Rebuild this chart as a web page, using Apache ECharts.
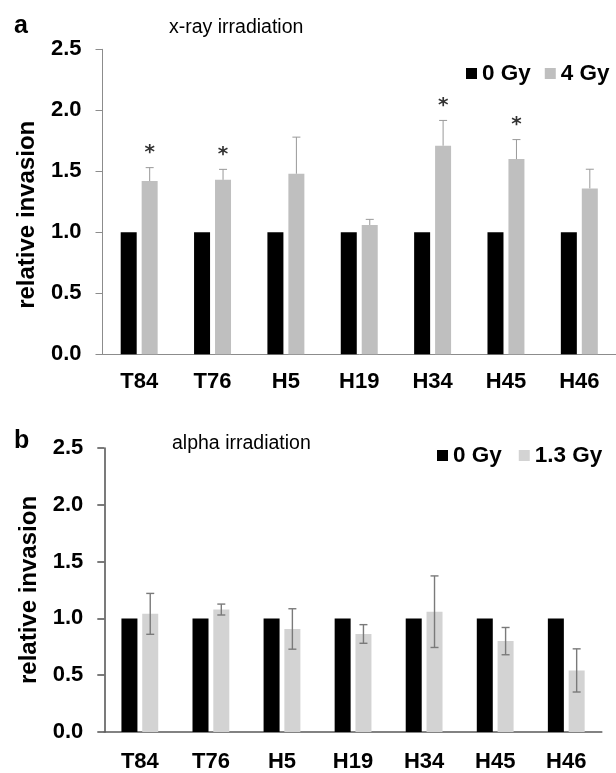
<!DOCTYPE html>
<html>
<head>
<meta charset="utf-8">
<script src="https://cdn.jsdelivr.net/npm/echarts@6/dist/echarts.min.js"></script>
<style>
html,body{margin:0;padding:0;background:#fff;}
#c{width:616px;height:773px;}
</style>
</head>
<body>
<div id="c"></div>
<script>
var categories = ['T84', 'T76', 'H5', 'H19', 'H34', 'H45', 'H46'];
var yTicks = [0, 0.5, 1.0, 1.5, 2.0, 2.5];
// panel a: x-ray irradiation
var xrayCtrl = [1, 1, 1, 1, 1, 1, 1];
var xrayMean = [1.42, 1.43, 1.48, 1.06, 1.71, 1.60, 1.36];
var xraySD = [0.11, 0.086, 0.30, 0.046, 0.207, 0.16, 0.157];
var xraySig = ['*', '*', '', '', '*', '*', ''];
// panel b: alpha irradiation
var alphaCtrl = [1, 1, 1, 1, 1, 1, 1];
var alphaMean = [1.04, 1.078, 0.907, 0.863, 1.059, 0.80, 0.542];
var alphaSD = [0.18, 0.048, 0.178, 0.082, 0.315, 0.12, 0.19];

var FONT = '"Liberation Sans", Arial, sans-serif';
var BAR_W = 16;

function errData(mean, sd) {
  return mean.map(function (m, i) {
    return [i, m - sd[i], m + sd[i]];
  });
}

function makeErrRender(gap, upperOnly, color, lw, cap, sig) {
  return function (params, api) {
    var i = api.value(0);
    var lo = api.coord([i, api.value(1)]);
    var hi = api.coord([i, api.value(2)]);
    var x = lo[0] + (BAR_W + gap) / 2;
    var mid = api.coord([i, (api.value(1) + api.value(2)) / 2]);
    var start = upperOnly ? mid[1] : lo[1];
    var children = [
      {type: 'line', shape: {x1: x, y1: start, x2: x, y2: hi[1]}, style: {stroke: color, lineWidth: lw}},
      {type: 'line', shape: {x1: x - cap / 2, y1: hi[1], x2: x + cap / 2, y2: hi[1]}, style: {stroke: color, lineWidth: lw}}
    ];
    if (!upperOnly) {
      children.push({type: 'line', shape: {x1: x - cap / 2, y1: lo[1], x2: x + cap / 2, y2: lo[1]}, style: {stroke: color, lineWidth: lw}});
    }
    var sg = sig ? sig[params.dataIndex] : '';
    if (sg) {
      children.push({type: 'text', style: {text: sg, x: x, y: hi[1] - 15, align: 'center', verticalAlign: 'middle', fontSize: 20, fontWeight: 'bold', fontFamily: '"DejaVu Sans", sans-serif', fill: '#333'}});
    }
    return {type: 'group', children: children};
  };
}

var axisA = '#8c8c8c', axisB = '#5a5a5a';

function xAx(gridIndex, color, lw, margin) {
  return {
    type: 'category', gridIndex: gridIndex, data: categories,
    axisLine: {lineStyle: {color: color, width: lw}},
    axisTick: {length: 7, lineStyle: {color: color, width: lw}},
    axisLabel: {color: '#000', fontSize: 22, fontWeight: 'bold', fontFamily: FONT, margin: margin, interval: 0}
  };
}
function yAx(gridIndex, color, lw, pad) {
  return {
    type: 'value', gridIndex: gridIndex, min: yTicks[0], max: yTicks[yTicks.length - 1], interval: 0.5,
    name: 'relative invasion', nameLocation: 'middle', nameGap: 63,
    nameTextStyle: {color: '#000', fontSize: 24, fontWeight: 'bold', fontFamily: FONT, padding: pad},
    splitLine: {show: false},
    axisLine: {show: true, lineStyle: {color: color, width: lw}},
    axisTick: {show: true, length: 7, lineStyle: {color: color, width: lw}},
    axisLabel: {color: '#000', fontSize: 22, fontWeight: 'bold', fontFamily: FONT, margin: 21,
      formatter: function (v) { return v.toFixed(1); }}
  };
}

var option = {
  animation: false,
  backgroundColor: '#fff',
  title: [
    {text: 'a', left: 9, top: 9, textStyle: {fontSize: 25, fontWeight: 'bold', fontFamily: FONT, color: '#000'}},
    {text: 'x-ray irradiation', left: 164, top: 13, textStyle: {fontSize: 19.5, fontWeight: 'normal', fontFamily: FONT, color: '#000'}},
    {text: 'b', left: 9, top: 424, textStyle: {fontSize: 25, fontWeight: 'bold', fontFamily: FONT, color: '#000'}},
    {text: 'alpha irradiation', left: 167, top: 429, textStyle: {fontSize: 19.5, fontWeight: 'normal', fontFamily: FONT, color: '#000'}}
  ],
  legend: [
    {data: ['0 Gy', '4 Gy'], left: 461, top: 57, itemWidth: 11, itemHeight: 11, itemGap: 14, icon: 'rect',
      textStyle: {fontSize: 22.5, fontWeight: 'bold', fontFamily: FONT, color: '#000'}},
    {data: ['0 Gy', '1.3 Gy'], left: 432, top: 439, itemWidth: 11, itemHeight: 11, itemGap: 17, icon: 'rect',
      textStyle: {fontSize: 22.5, fontWeight: 'bold', fontFamily: FONT, color: '#000'}}
  ],
  grid: [
    {left: 102.5, top: 49.3, width: 518, height: 305, containLabel: false},
    {left: 104.3, top: 448, width: 497.5, height: 286, containLabel: false}
  ],
  xAxis: [xAx(0, axisA, 1, 17), xAx(1, axisB, 1.6, 19)],
  yAxis: [yAx(0, axisA, 1, [0, 26, 0, 0]), yAx(1, axisB, 1.6, [0, 0, 0, 0])],
  series: [
    {name: '0 Gy', type: 'bar', xAxisIndex: 0, yAxisIndex: 0, data: xrayCtrl, barWidth: BAR_W, barGap: '31%', itemStyle: {color: '#000'}},
    {name: '4 Gy', type: 'bar', xAxisIndex: 0, yAxisIndex: 0, data: xrayMean, barWidth: BAR_W, barGap: '31%', itemStyle: {color: '#bfbfbf'}},
    {name: 'errA', type: 'custom', xAxisIndex: 0, yAxisIndex: 0, data: errData(xrayMean, xraySD),
      renderItem: makeErrRender(5, true, '#999999', 1, 8, xraySig), z: 5, silent: true},
    {name: '0 Gy', type: 'bar', xAxisIndex: 1, yAxisIndex: 1, data: alphaCtrl, barWidth: BAR_W, barGap: '30%', itemStyle: {color: '#000'}},
    {name: '1.3 Gy', type: 'bar', xAxisIndex: 1, yAxisIndex: 1, data: alphaMean, barWidth: BAR_W, barGap: '30%', itemStyle: {color: '#d3d3d3'}},
    {name: 'errB', type: 'custom', xAxisIndex: 1, yAxisIndex: 1, data: errData(alphaMean, alphaSD),
      renderItem: makeErrRender(4.8, false, '#7a7a7a', 1.4, 8, null), z: 5, silent: true}
  ]
};

var chart = echarts.init(document.getElementById('c'), null, {renderer: 'canvas'});
chart.setOption(option);
</script>
</body>
</html>
